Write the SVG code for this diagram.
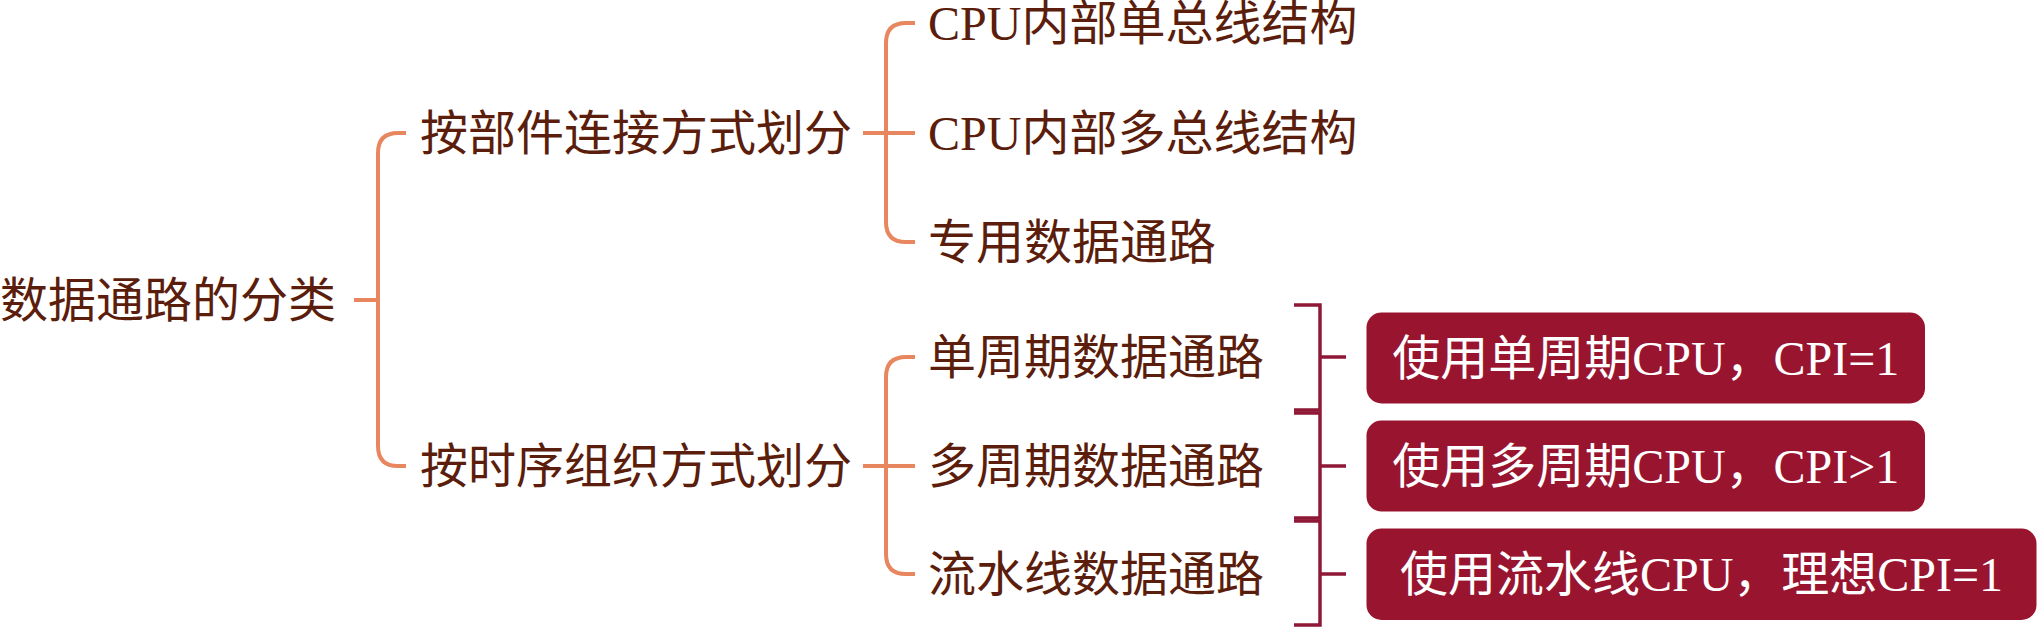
<svg xmlns="http://www.w3.org/2000/svg" width="2038" height="630" viewBox="0 0 2038 630">
<style>
.t{font-family:"Liberation Serif","Noto Sans CJK SC",sans-serif;font-size:48px;fill:#5B1D0C}
.bt{font-family:"Liberation Serif","Noto Sans CJK SC",sans-serif;font-size:48px;fill:#FFFFFF;text-anchor:middle}
.c{fill:none;stroke:#E8875F;stroke-width:4}
.b{fill:none;stroke:#8E1836;stroke-width:3.5}
.box{fill:#99152F}
</style>
<rect width="2038" height="630" fill="#FFFFFF"/>
<g id="connectors">
<path class="c" d="M354,300 H378 M406,133 H398 Q378,133 378,153 V446 Q378,466 398,466 H406"/>
<path class="c" d="M863,133 H915 M915,23 H906 Q886,23 886,43 V222 Q886,242 906,242 H915"/>
<path class="c" d="M863,466 H915 M915,357 H906 Q886,357 886,377 V554 Q886,574 906,574 H915"/>
<path class="b" d="M1294,305 H1320 V410 H1294 M1320,357 H1346"/>
<path class="b" d="M1294,413 H1320 V518 H1294 M1320,466 H1346"/>
<path class="b" d="M1294,521 H1320 V625 H1294 M1320,574 H1346"/>
</g>
<g id="root"><text class="t" x="0" y="317">数据通路的分类</text></g>
<g id="n1"><text class="t" x="420" y="150">按部件连接方式划分</text></g>
<g id="n2"><text class="t" x="420" y="483">按时序组织方式划分</text></g>
<g id="n11"><text class="t" x="928" y="40">CPU内部单总线结构</text></g>
<g id="n12"><text class="t" x="928" y="150">CPU内部多总线结构</text></g>
<g id="n13"><text class="t" x="928" y="259">专用数据通路</text></g>
<g id="n21"><text class="t" x="928" y="374">单周期数据通路</text></g>
<g id="n22"><text class="t" x="928" y="483">多周期数据通路</text></g>
<g id="n23"><text class="t" x="928" y="591">流水线数据通路</text></g>
<g id="b1"><rect class="box" x="1366.5" y="312.5" width="558.5" height="91" rx="15"/><text class="bt" x="1645.75" y="375">使用单周期CPU，CPI=1</text></g>
<g id="b2"><rect class="box" x="1366.5" y="420.5" width="558.5" height="91" rx="15"/><text class="bt" x="1645.75" y="483">使用多周期CPU，CPI&gt;1</text></g>
<g id="b3"><rect class="box" x="1366.5" y="528.5" width="670" height="91.5" rx="15"/><text class="bt" x="1701.5" y="591">使用流水线CPU，理想CPI=1</text></g>
</svg>
